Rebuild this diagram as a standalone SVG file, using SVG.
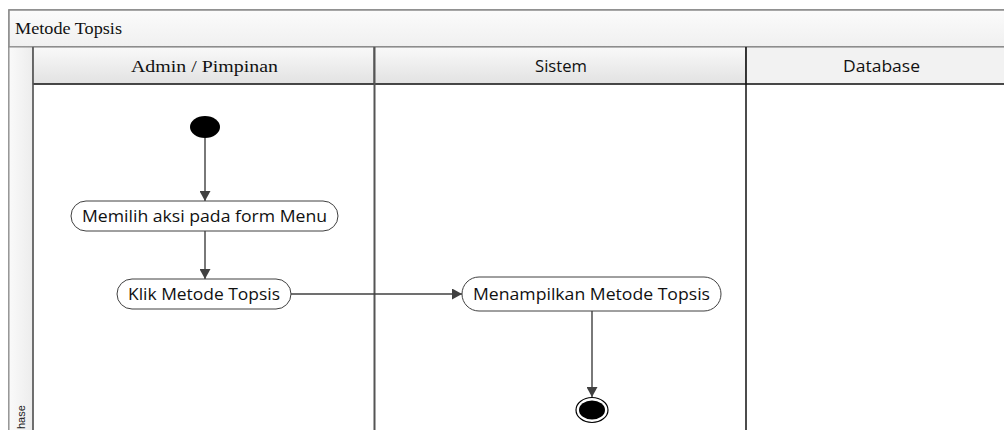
<svg xmlns="http://www.w3.org/2000/svg" width="1004" height="430" viewBox="0 0 1004 430">
<defs>
<linearGradient id="hdr" x1="0" y1="0" x2="0" y2="1"><stop offset="0" stop-color="#f9f9f9"/><stop offset="1" stop-color="#e2e2e2"/></linearGradient>
<linearGradient id="ttl" x1="0" y1="0" x2="0" y2="1"><stop offset="0" stop-color="#fbfbfb"/><stop offset="1" stop-color="#f0f0f0"/></linearGradient>
<linearGradient id="strip" x1="0" y1="0" x2="1" y2="0"><stop offset="0" stop-color="#fafafa"/><stop offset="1" stop-color="#ececec"/></linearGradient>
<marker id="arr" markerWidth="10" markerHeight="11" refX="10" refY="5.5" orient="auto" markerUnits="userSpaceOnUse"><path d="M0,0 L10,5.5 L0,11 z" fill="#404040"/></marker>
<style>
.node{fill:#fff;stroke:#404040;stroke-width:1}
.ntext{font-family:"Open Sans","Noto Sans",sans-serif;font-size:16px;fill:#111;text-anchor:middle;dominant-baseline:central}
.serif{font-family:"Liberation Serif","Times New Roman",serif;font-size:17px;fill:#111}
.sans{font-family:"Open Sans","Noto Sans",sans-serif;font-size:15.5px;fill:#111}
.conn{stroke:#404040;stroke-width:1.4;fill:none}
</style>
</defs>
<g id="pool">
<rect x="9" y="10" width="1000" height="425" fill="#fff" stroke="#8a8a8a" stroke-width="1.5"/>
<rect x="9" y="10" width="1000" height="37" fill="url(#ttl)" stroke="#8a8a8a" stroke-width="1.5"/>
<text class="serif" x="15" y="34" textLength="107" lengthAdjust="spacingAndGlyphs">Metode Topsis</text>
<rect x="9" y="47" width="24" height="390" fill="url(#strip)" stroke="#8a8a8a" stroke-width="1"/>
<text x="25" y="429" transform="rotate(-90 25 429)" font-family="'Liberation Sans Narrow','Liberation Sans',sans-serif" font-size="11" fill="#222">hase</text>
</g>
<g id="lane-admin">
<rect x="33" y="47" width="341" height="37" fill="url(#hdr)" stroke="#777" stroke-width="1"/>
<text class="serif" x="204.5" y="72" text-anchor="middle" textLength="147" lengthAdjust="spacingAndGlyphs">Admin / Pimpinan</text>
</g>
<g id="lane-sistem">
<rect x="374" y="47" width="372" height="37" fill="url(#hdr)" stroke="#777" stroke-width="1"/>
<text class="sans" x="561" y="72" text-anchor="middle" textLength="52" lengthAdjust="spacingAndGlyphs">Sistem</text>
</g>
<g id="lane-database">
<rect x="746" y="47" width="262" height="37" fill="#f2f2f2" stroke="#777" stroke-width="1"/>
<text class="sans" x="881.5" y="72" text-anchor="middle" textLength="77" lengthAdjust="spacingAndGlyphs">Database</text>
</g>
<g id="lane-lines">
<line x1="33" y1="84" x2="1008" y2="84" stroke="#222" stroke-width="1.5"/>
<line x1="33" y1="47" x2="33" y2="432" stroke="#555" stroke-width="1.5"/>
<line x1="374.5" y1="47" x2="374.5" y2="432" stroke="#555" stroke-width="2"/>
<line x1="746" y1="47" x2="746" y2="432" stroke="#111" stroke-width="1.5"/>
</g>
<g id="connectors">
<line class="conn" x1="205" y1="138" x2="205" y2="201" marker-end="url(#arr)"/>
<line class="conn" x1="205" y1="231" x2="205" y2="279" marker-end="url(#arr)"/>
<line class="conn" x1="291" y1="294" x2="462" y2="294" marker-end="url(#arr)"/>
<line class="conn" x1="592" y1="311" x2="592" y2="397" marker-end="url(#arr)"/>
</g>
<g id="start">
<ellipse cx="205" cy="127" rx="15" ry="11" fill="#000"/>
</g>
<g id="node-memilih">
<rect class="node" x="71" y="201" width="267" height="30" rx="15" ry="15"/>
<text class="ntext" x="204.5" y="216" textLength="245" lengthAdjust="spacingAndGlyphs">Memilih aksi pada form Menu</text>
</g>
<g id="node-klik">
<rect class="node" x="117" y="279" width="174" height="30" rx="15" ry="15"/>
<text class="ntext" x="204" y="294" textLength="152" lengthAdjust="spacingAndGlyphs">Klik Metode Topsis</text>
</g>
<g id="node-menampilkan">
<rect class="node" x="462" y="277" width="259" height="34" rx="17" ry="17"/>
<text class="ntext" x="591.5" y="294" textLength="237" lengthAdjust="spacingAndGlyphs">Menampilkan Metode Topsis</text>
</g>
<g id="end">
<ellipse cx="592" cy="410" rx="16" ry="12.5" fill="#fff" stroke="#000" stroke-width="1.2"/>
<ellipse cx="592" cy="410" rx="13" ry="9.5" fill="#000"/>
</g>
</svg>
